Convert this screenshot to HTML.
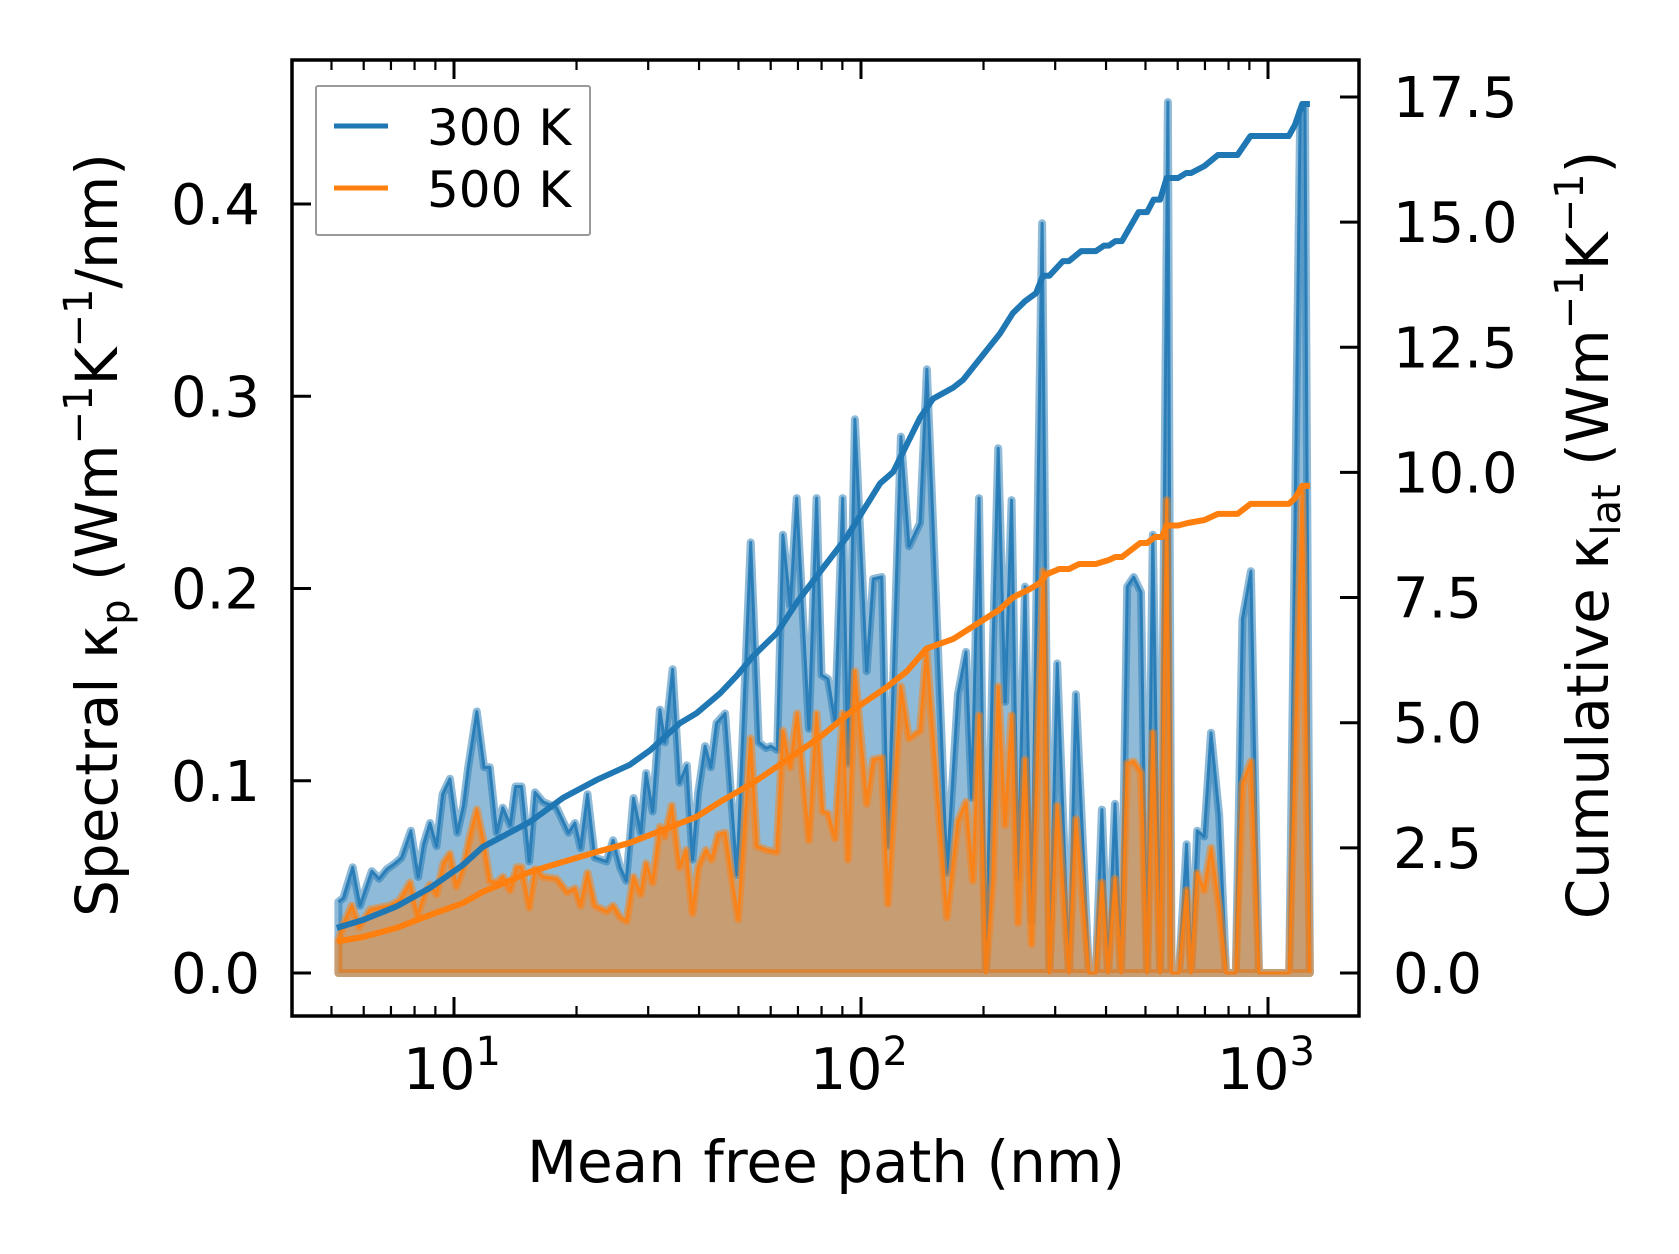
<!DOCTYPE html>
<html><head><meta charset="utf-8"><style>
html,body{margin:0;padding:0;background:#fff;}
svg{display:block;font-family:"DejaVu Sans","Liberation Sans",sans-serif;}
</style></head><body>
<svg id="chart" width="1679" height="1254" viewBox="0 0 1679 1254" xmlns="http://www.w3.org/2000/svg">
<g id="plot"></g>
<g id="axes"></g>
<text x="826" y="1182" text-anchor="middle" font-size="58">Mean free path (nm)</text>
<text transform="translate(117,535) rotate(-90)" text-anchor="middle" font-size="58">Spectral κ<tspan font-size="40" dy="12">p</tspan><tspan dy="-12"> (Wm</tspan><tspan font-size="40" dy="-25">−1</tspan><tspan dy="25">K</tspan><tspan font-size="40" dy="-25">−1</tspan><tspan dy="25">/nm)</tspan></text>
<text transform="translate(1608,535) rotate(-90)" text-anchor="middle" font-size="58">Cumulative κ<tspan font-size="40" dy="12">lat</tspan><tspan dy="-12"> (Wm</tspan><tspan font-size="40" dy="-25">−1</tspan><tspan dy="25">K</tspan><tspan font-size="40" dy="-25">−1</tspan><tspan dy="25">)</tspan></text>
<g>
<rect x="316" y="86" width="274" height="149" fill="#fff" fill-opacity="0.8" stroke="#999" stroke-width="2" rx="2"/>
<line x1="334" x2="388" y1="126" y2="126" stroke="#1f77b4" stroke-width="5"/>
<text x="427" y="145" font-size="50">300 K</text>
<line x1="334" x2="388" y1="188" y2="188" stroke="#ff7f0e" stroke-width="5"/>
<text x="427" y="207" font-size="50">500 K</text>
</g>
</svg>
<script>
const spec300LogX = [0.716,0.728,0.751,0.769,0.798,0.816,0.835,0.855,0.871,0.894,0.912,0.925,0.941,0.957,0.972,0.990,1.008,1.023,1.035,1.056,1.074,1.088,1.105,1.120,1.138,1.151,1.166,1.185,1.199,1.219,1.252,1.281,1.297,1.311,1.328,1.346,1.375,1.391,1.408,1.423,1.441,1.459,1.472,1.488,1.506,1.518,1.537,1.554,1.572,1.586,1.600,1.617,1.631,1.645,1.666,1.695,1.729,1.749,1.767,1.778,1.794,1.808,1.826,1.842,1.872,1.891,1.903,1.919,1.936,1.955,1.968,1.985,2.014,2.030,2.051,2.066,2.098,2.118,2.145,2.162,2.211,2.238,2.258,2.272,2.290,2.307,2.324,2.337,2.354,2.370,2.386,2.403,2.419,2.445,2.463,2.482,2.511,2.528,2.560,2.577,2.592,2.607,2.624,2.639,2.654,2.670,2.688,2.703,2.717,2.735,2.754,2.763,2.781,2.800,2.811,2.826,2.843,2.860,2.880,2.897,2.921,2.937,2.958,2.978,3.052,3.079,3.091,3.103];
const spec300 = [.037,.039,.055,.035,.053,.049,.054,.057,.060,.074,.050,.067,.078,.066,.093,.101,.073,.087,.107,.136,.107,.107,.073,.086,.077,.097,.097,.058,.094,.089,.086,.073,.078,.065,.093,.060,.058,.069,.055,.048,.091,.073,.104,.084,.137,.120,.158,.099,.108,.059,.094,.118,.107,.130,.135,.051,.224,.120,.117,.118,.116,.228,.191,.247,.127,.247,.155,.153,.131,.247,.109,.288,.157,.205,.206,.066,.279,.222,.234,.314,.052,.145,.167,.091,.247,0,.169,.273,.141,.246,.049,.201,.027,.390,0,.161,0,.145,0,0,.085,0,.088,0,.201,.206,.198,0,.228,0,.453,0,0,.067,0,.074,.071,.125,.082,0,0,.184,.209,0,0,.448,.450,0];
const spec500LogX = [0.716,0.730,0.749,0.767,0.794,0.818,0.843,0.867,0.892,0.910,0.929,0.941,0.957,0.974,0.990,1.006,1.023,1.039,1.056,1.072,1.088,1.105,1.120,1.138,1.154,1.166,1.185,1.199,1.219,1.252,1.278,1.297,1.311,1.328,1.346,1.375,1.391,1.408,1.424,1.441,1.459,1.472,1.488,1.506,1.518,1.535,1.554,1.570,1.586,1.600,1.619,1.633,1.649,1.666,1.698,1.729,1.744,1.768,1.793,1.808,1.826,1.843,1.872,1.891,1.906,1.919,1.936,1.955,1.968,1.985,2.014,2.030,2.051,2.066,2.098,2.118,2.145,2.161,2.211,2.238,2.258,2.275,2.290,2.307,2.324,2.337,2.354,2.370,2.386,2.403,2.419,2.448,2.463,2.482,2.511,2.528,2.560,2.577,2.592,2.607,2.624,2.639,2.654,2.670,2.688,2.703,2.717,2.735,2.751,2.763,2.781,2.800,2.811,2.826,2.843,2.860,2.880,2.897,2.921,2.937,2.958,2.978,3.052,3.084,3.103];
const spec500 = [.017,.026,.035,.024,.033,.034,.035,.038,.047,.030,.042,.046,.041,.057,.062,.045,.055,.071,.085,.069,.048,.047,.050,.043,.055,.055,.034,.054,.050,.049,.042,.044,.035,.052,.035,.032,.035,.029,.027,.050,.041,.057,.047,.076,.071,.087,.055,.064,.031,.055,.064,.059,.072,.073,.028,.122,.066,.064,.063,.126,.107,.135,.069,.135,.084,.083,.070,.135,.059,.157,.088,.111,.112,.036,.149,.122,.126,.168,.029,.079,.089,.048,.134,0,.049,.149,.077,.134,.026,.111,.015,.209,0,.087,0,.080,0,0,.047,0,.049,0,.109,.110,.104,0,.125,0,.246,0,0,.043,0,.052,.043,.065,.034,0,0,.098,.110,0,0,.251,0];
const cum300LogX = [0.712,0.777,0.859,0.941,1.022,1.071,1.187,1.268,1.351,1.432,1.482,1.555,1.596,1.654,1.695,1.735,1.793,1.842,1.899,1.965,2.047,2.079,2.145,2.177,2.226,2.251,2.342,2.373,2.403,2.430,2.447,2.463,2.496,2.511,2.541,2.577,2.597,2.609,2.625,2.641,2.682,2.703,2.719,2.735,2.751,2.779,2.799,2.811,2.844,2.877,2.925,2.957,3.051,3.066,3.084,3.103];
const cum300 = [0.90,1.06,1.33,1.70,2.16,2.52,3.02,3.50,3.86,4.16,4.45,4.99,5.19,5.59,5.94,6.33,6.79,7.40,8.01,8.71,9.78,10.01,11.09,11.47,11.69,11.85,12.78,13.18,13.42,13.58,13.93,13.93,14.22,14.22,14.42,14.42,14.53,14.53,14.62,14.62,15.20,15.20,15.45,15.45,15.88,15.88,15.98,15.98,16.12,16.34,16.34,16.72,16.72,16.94,17.36,17.36];
const cum500LogX = [0.712,0.776,0.859,0.941,1.023,1.071,1.187,1.268,1.351,1.432,1.514,1.596,1.654,1.735,1.817,1.899,1.980,2.063,2.112,2.161,2.226,2.292,2.342,2.373,2.415,2.439,2.455,2.487,2.511,2.536,2.577,2.609,2.625,2.641,2.686,2.703,2.722,2.739,2.751,2.779,2.803,2.844,2.877,2.925,2.957,3.051,3.066,3.084,3.103];
const cum500 = [0.63,0.72,0.90,1.16,1.40,1.62,2.02,2.22,2.42,2.60,2.86,3.12,3.42,3.80,4.25,4.71,5.25,5.71,6.02,6.48,6.67,7.01,7.27,7.50,7.67,7.79,7.96,8.07,8.07,8.17,8.17,8.25,8.31,8.31,8.59,8.59,8.71,8.71,8.94,8.94,8.99,9.05,9.17,9.17,9.37,9.37,9.48,9.73,9.73];
const leftTicks = [0.0,0.1,0.2,0.3,0.4];
const leftTickLabels = ["0.0","0.1","0.2","0.3","0.4"];
const rightTicks = [0,2.5,5,7.5,10,12.5,15,17.5];
const rightTickLabels = ["0.0","2.5","5.0","7.5","10.0","12.5","15.0","17.5"];
const xDecades = [1,2,3];

const L=292,R=1359,T=60,B=1016;
const xs = lx => 454 + (lx-1)*407;
const yl = v => 973 - v*1922.5;
const yr = v => 973 - v*50.06;
const NS="http://www.w3.org/2000/svg";
function mk(tag, attrs, parent){const e=document.createElementNS(NS,tag);for(const k in attrs)e.setAttribute(k,attrs[k]);parent.appendChild(e);return e;}
const plot=document.getElementById('plot'), axes=document.getElementById('axes');

function spectral(lxArr, vals, color, name){
  let d="M"+xs(lxArr[0])+","+yl(0);
  lxArr.forEach((lx,i)=>{d+=" L"+xs(lx).toFixed(1)+","+yl(vals[i]).toFixed(1);});
  d+=" L"+xs(lxArr[lxArr.length-1])+","+yl(0)+" Z";
  const f=mk('path',{d:d,fill:color,'fill-opacity':0.5,stroke:color,'stroke-opacity':0.5,'stroke-width':8,'stroke-linejoin':'round'},plot);
  
  
  const pts=lxArr.map((lx,i)=>xs(lx).toFixed(1)+","+yl(vals[i]).toFixed(1)).join(" ");
  const l=mk('polyline',{points:pts,fill:'none',stroke:color,'stroke-width':3,'stroke-opacity':0.85,'stroke-linejoin':'round'},plot);
  
  
}
spectral(spec300LogX, spec300, '#1f77b4', 'spectral-300k');
spectral(spec500LogX, spec500, '#ff7f0e', 'spectral-500k');
function cum(lxArr, vals, color, name){
  const pts=lxArr.map((lx,i)=>xs(lx).toFixed(1)+","+yr(vals[i]).toFixed(1)).join(" ");
  const l=mk('polyline',{points:pts,fill:'none',stroke:color,'stroke-width':6,'stroke-linejoin':'round'},plot);
  
  
}
cum(cum300LogX, cum300, '#1f77b4', 'cumulative-300k');
cum(cum500LogX, cum500, '#ff7f0e', 'cumulative-500k');

const fr=mk('rect',{x:L,y:T,width:R-L,height:B-T,fill:'none',stroke:'#000','stroke-width':3.5},axes);


leftTicks.forEach((v,i)=>{
  const y=yl(v);
  mk('line',{x1:L,x2:L+19,y1:y,y2:y,stroke:'#000','stroke-width':3},axes);
  const t=mk('text',{x:260,y:y+20,'text-anchor':'end','font-size':56},axes);
  t.textContent=leftTickLabels[i];
  
  
});
rightTicks.forEach((v,i)=>{
  const y=yr(v);
  mk('line',{x1:R-19,x2:R,y1:y,y2:y,stroke:'#000','stroke-width':3},axes);
  const t=mk('text',{x:1393,y:y+20,'text-anchor':'start','font-size':56},axes);
  t.textContent=rightTickLabels[i];
  
  
});
for(let dec=0;dec<=3;dec++){
  for(let m=1;m<=9;m++){
    const lx=dec+Math.log10(m);
    const x=xs(lx);
    if(x<L+1||x>R-1) continue;
    const len=(m===1)?19:10;
    mk('line',{x1:x,x2:x,y1:B,y2:B-len,stroke:'#000','stroke-width':m===1?3:2.2},axes);
    mk('line',{x1:x,x2:x,y1:T,y2:T+len,stroke:'#000','stroke-width':m===1?3:2.2},axes);
  }
}
xDecades.forEach(d=>{
  const t=mk('text',{x:xs(d)-2,y:1089,'text-anchor':'middle','font-size':57},axes);
  
  
  const a=document.createElementNS(NS,'tspan');a.textContent='10';t.appendChild(a);
  const b=document.createElementNS(NS,'tspan');b.textContent=String(d);b.setAttribute('font-size','40');b.setAttribute('dy','-24');t.appendChild(b);
});
</script>
</body></html>
